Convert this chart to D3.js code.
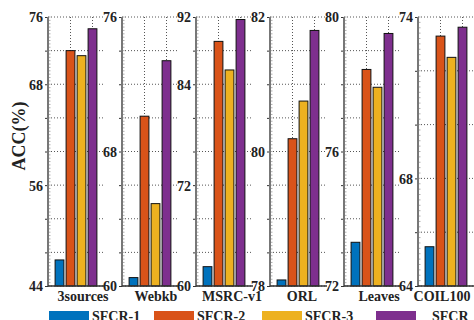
<!DOCTYPE html>
<html>
<head>
<meta charset="utf-8">
<script src="https://cdn.jsdelivr.net/npm/d3@7"></script>
<style>
  html, body { margin: 0; padding: 0; background: #fff; }
  svg { display: block; }
  text { font-family: "Liberation Serif", "Times New Roman", serif; font-weight: bold; fill: #222; }
</style>
</head>
<body>
<svg id="chart" width="474" height="320"></svg>
<script>
// Datasets (one small panel each) and the compared methods
const datasets = ["3sources", "Webkb", "MSRC-v1", "ORL", "Leaves", "COIL100"];
const series = ["SFCR-1", "SFCR-2", "SFCR-3", "SFCR"];

// Accuracy (%) per dataset for each method
const sfcr1 = [47.1, 60.5, 62.3, 78.09, 73.3, 65.46];
const sfcr2 = [72.0, 70.1, 89.1, 80.19, 78.44, 73.29];
const sfcr3 = [71.4, 64.9, 85.7, 80.75, 77.91, 72.5];
const sfcrFull = [74.6, 73.4, 91.7, 81.8, 79.51, 73.62];

// Per-panel y ranges, labelled ticks and grid spacing
const yMin = [44, 60, 60, 78, 72, 64];
const yMax = [76, 76, 92, 82, 80, 74];
const yTickLabels = [[44, 56, 68, 76], [60, 68, 76], [60, 72, 84, 92], [78, 80, 82], [72, 76, 80], [64, 68, 74]];
const gridStep = [4, 2, 4, 0.5, 1, 2];

const colors = ["#0072BD", "#D95319", "#EDB120", "#7E2F8E"];
const valuesBySeries = [sfcr1, sfcr2, sfcr3, sfcrFull];

const svg = d3.select("#chart");
const plotTop = 17, plotBottom = 286, panelW = 57;
const labelShift = [7, 6, 8, 4, 7, -4];

const xPanel = d3.scaleBand().domain(datasets).range([48, 492]);
const xBar = d3.scaleBand().domain(series).range([6, 50]).paddingInner(0.2).paddingOuter(0.1);
const color = d3.scaleOrdinal().domain(series).range(colors);

datasets.forEach((name, i) => {
  const x0 = xPanel(name);
  const g = svg.append("g").attr("transform", `translate(${x0},0)`);
  const y = d3.scaleLinear().domain([yMin[i], yMax[i]]).range([plotBottom, plotTop]);
  const n = Math.round((yMax[i] - yMin[i]) / gridStep[i]);
  const gridVals = d3.range(n + 1).map(k => yMin[i] + k * gridStep[i]);

  // horizontal dotted grid
  g.append("g").selectAll("line").data(gridVals).join("line")
    .attr("x1", 0).attr("x2", panelW)
    .attr("y1", d => y(d)).attr("y2", d => y(d))
    .attr("stroke", "#555").attr("stroke-width", 1)
    .attr("stroke-dasharray", "1,2");

  // vertical dotted grid at the 2nd and 4th bar
  g.append("g").selectAll("line").data([series[1], series[3]]).join("line")
    .attr("x1", d => xBar(d) + xBar.bandwidth() / 2)
    .attr("x2", d => xBar(d) + xBar.bandwidth() / 2)
    .attr("y1", plotTop).attr("y2", plotBottom)
    .attr("stroke", "#555").attr("stroke-width", 1)
    .attr("stroke-dasharray", "1,2");

  // bars
  g.append("g").selectAll("rect").data(series).join("rect")
    .attr("x", d => xBar(d))
    .attr("width", xBar.bandwidth())
    .attr("y", (d, j) => y(valuesBySeries[j][i]))
    .attr("height", (d, j) => plotBottom - y(valuesBySeries[j][i]))
    .attr("fill", d => color(d))
    .attr("stroke", "#111").attr("stroke-width", 1);

  // left axis
  const labelSet = new Set(yTickLabels[i]);
  const axis = d3.axisLeft(y)
    .tickValues(gridVals)
    .tickSize(3)
    .tickPadding(2)
    .tickFormat(d => labelSet.has(+d.toFixed(3)) ? d3.format("d")(d) : "");
  const ag = g.append("g").call(axis);
  ag.select(".domain").remove();
  ag.selectAll(".tick line").attr("stroke", "#333");
  ag.selectAll(".tick text")
    .attr("font-family", "'Liberation Serif', serif")
    .attr("font-weight", "bold")
    .attr("font-size", 14)
    .attr("fill", "#222")
    .attr("dy", "0.35em");

  // axis spine with fine minor ticks
  const minor = d3.range(n * 10 + 1).map(k => yMin[i] + k * gridStep[i] / 10);
  g.append("g").selectAll("line").data(minor).join("line")
    .attr("x1", 0).attr("x2", 2.5)
    .attr("y1", d => y(d)).attr("y2", d => y(d))
    .attr("stroke", "#999").attr("stroke-width", 0.8);
  g.append("line")
    .attr("x1", 0).attr("x2", 0).attr("y1", plotTop).attr("y2", plotBottom)
    .attr("stroke", "#777").attr("stroke-width", 2);

  // bottom axis line
  g.append("line")
    .attr("x1", 0).attr("x2", panelW).attr("y1", plotBottom).attr("y2", plotBottom)
    .attr("stroke", "#333").attr("stroke-width", 1.5);

  // dataset name
  g.append("text")
    .attr("x", 28 + labelShift[i]).attr("y", 301)
    .attr("text-anchor", "middle")
    .attr("font-size", 14)
    .text(name);
});

// y-axis title
svg.append("text")
  .attr("transform", "translate(25,136) rotate(-90)")
  .attr("text-anchor", "middle")
  .attr("font-size", 18)
  .text("ACC(%)");

// legend along the bottom
const legendX = [49, 154, 262, 376];
const legend = svg.append("g");
series.forEach((s, j) => {
  legend.append("rect")
    .attr("x", legendX[j]).attr("y", 311)
    .attr("width", 40).attr("height", 9)
    .attr("fill", color(s));
  legend.append("text")
    .attr("x", legendX[j] + (j === 3 ? 56 : 43)).attr("y", 320.5)
    .attr("font-size", 14)
    .text(s);
});
</script>
</body>
</html>
